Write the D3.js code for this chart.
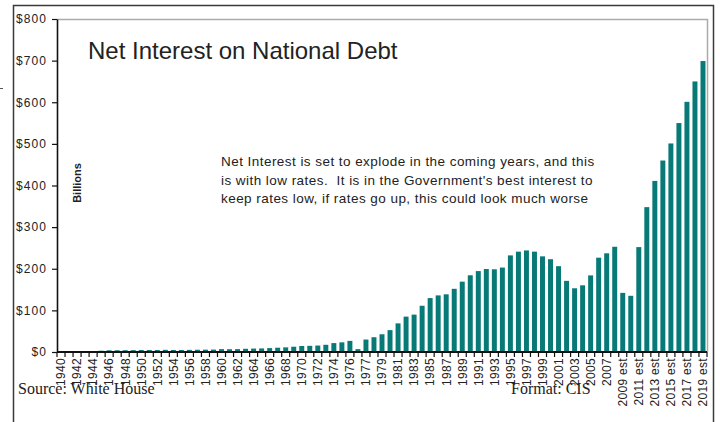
<!DOCTYPE html>
<html>
<head>
<meta charset="utf-8">
<script src="https://cdn.jsdelivr.net/npm/d3@7"></script>
<style>
  html, body { margin: 0; padding: 0; background: #fff; }
  svg { display: block; }
  .sans { font-family: "Liberation Sans", Arial, sans-serif; fill: #222; }
  .serif { font-family: "Liberation Serif", "Times New Roman", serif; fill: #222; }
</style>
</head>
<body>
<svg id="chart" width="720" height="422"></svg>
<script>
// Fiscal-year categories (TQ = 1976 transition quarter)
const categories = [
  "1940","1941","1942","1943","1944","1945","1946","1947","1948","1949",
  "1950","1951","1952","1953","1954","1955","1956","1957","1958","1959",
  "1960","1961","1962","1963","1964","1965","1966","1967","1968","1969",
  "1970","1971","1972","1973","1974","1975","1976","TQ",
  "1977","1978","1979","1980","1981","1982","1983","1984","1985","1986",
  "1987","1988","1989","1990","1991","1992","1993","1994","1995","1996",
  "1997","1998","1999","2000","2001","2002","2003","2004","2005","2006","2007","2008",
  "2009 est","2010 est","2011 est","2012 est","2013 est","2014 est",
  "2015 est","2016 est","2017 est","2018 est","2019 est"
];

// Net interest, billions of dollars
const netInterest = [
  0.9, 0.9, 1.1, 1.5, 2.2, 3.1, 4.1, 4.2, 4.3, 4.5,
  4.8, 4.7, 4.7, 5.2, 4.8, 4.9, 5.1, 5.4, 5.6, 5.8,
  6.9, 6.7, 6.9, 7.7, 8.2, 8.6, 9.4, 10.3, 11.1, 12.7,
  14.4, 14.8, 15.5, 17.3, 21.4, 23.2, 26.7, 6.9,
  29.9, 35.5, 42.6, 52.5, 68.8, 85.0, 89.8, 111.1, 129.5, 136.0,
  138.6, 151.8, 169.0, 184.3, 194.4, 199.3, 198.7, 202.9, 232.1, 241.1,
  244.0, 241.1, 229.8, 222.9, 206.2, 170.9, 153.1, 160.2, 184.0, 226.6, 237.1, 252.8,
  142, 135, 252, 348, 411, 460, 501, 550, 601, 650, 699
];

const yTicks = [0, 100, 200, 300, 400, 500, 600, 700, 800];

const titleText = "Net Interest on National Debt";
const noteLines = [
  "Net Interest is set to explode in the coming years, and this",
  "is with low rates.  It is in the Government's best interest to",
  "keep rates low, if rates go up, this could look much worse"
];
const yAxisTitle = "Billions";
const sourceText = "Source: White House";
const formatText = "Format: CIS";

const svg = d3.select("#chart");
const plot = { left: 57, right: 707, top: 19, bottom: 352 };
const barColor = "#077a77";

const data = categories.map((c, i) => ({ cat: c, value: netInterest[i], idx: i }));

const x = d3.scaleBand()
  .domain(categories)
  .range([plot.left, plot.right])
  .paddingInner(0.38)
  .paddingOuter(0.19);

const y = d3.scaleLinear()
  .domain([0, 800])
  .range([plot.bottom, plot.top]);

// outer frame
svg.append("path")
  .attr("d", `M13.5,422 V5.5 H713.5 V422`)
  .attr("fill", "none")
  .attr("stroke", "#3a3a3a")
  .attr("stroke-width", 1.5);

// small mark on the left edge
svg.append("line")
  .attr("x1", 0).attr("x2", 3).attr("y1", 88.5).attr("y2", 88.5)
  .attr("stroke", "#555").attr("stroke-width", 1);

// plot area border (top and right)
svg.append("path")
  .attr("d", `M${plot.left},${plot.top + 0.5} H${plot.right + 0.5} V${plot.bottom}`)
  .attr("fill", "none")
  .attr("stroke", "#aaaaaa")
  .attr("stroke-width", 1.5);

// bars
svg.append("g")
  .selectAll("rect")
  .data(data)
  .join("rect")
  .attr("x", d => x(d.cat))
  .attr("width", x.bandwidth())
  .attr("y", d => y(d.value))
  .attr("height", d => y(0) - y(d.value))
  .attr("fill", barColor);

// y axis
const yAxis = svg.append("g")
  .attr("transform", `translate(${plot.left},0)`)
  .call(d3.axisLeft(y).tickValues(yTicks).tickFormat(d => "$" + d).tickSize(5).tickPadding(5).tickSizeOuter(0));
yAxis.attr("font-family", null).attr("font-size", null);
yAxis.select(".domain").attr("stroke", "#111").attr("stroke-width", 1.6);
yAxis.selectAll(".tick line").attr("stroke", "#111").attr("stroke-width", 1.2);
yAxis.selectAll(".tick text")
  .attr("class", "sans")
  .style("font-size", "12px")
  .style("letter-spacing", "1.1px");

// x axis line and category boundary ticks
const gx = svg.append("g");
gx.append("line")
  .attr("x1", plot.left).attr("x2", plot.right)
  .attr("y1", y(0)).attr("y2", y(0))
  .attr("stroke", "#111").attr("stroke-width", 1.8);

const half = (x.step() - x.bandwidth()) / 2;
const boundaries = categories.map(c => x(c) - half).concat([x(categories[categories.length - 1]) + x.bandwidth() + half]);
gx.selectAll("line.tk")
  .data(boundaries)
  .join("line")
  .attr("class", "tk")
  .attr("x1", d => d).attr("x2", d => d)
  .attr("y1", y(0)).attr("y2", y(0) + 5)
  .attr("stroke", "#111").attr("stroke-width", 1.2);

// category labels, every other category
gx.selectAll("text")
  .data(data.filter(d => d.idx % 2 === 0))
  .join("text")
  .attr("class", "sans")
  .attr("transform", d => `translate(${x(d.cat) + x.bandwidth() / 2},${y(0) + 6}) rotate(-90)`)
  .attr("text-anchor", "end")
  .attr("dy", "0.36em")
  .style("font-size", "12px")
  .style("letter-spacing", "0.3px")
  .style("white-space", "pre")
  .text(d => d.cat);

// title
svg.append("text")
  .attr("class", "sans")
  .attr("x", 88).attr("y", 59)
  .style("font-size", "24px")
  .text(titleText);

// commentary
svg.append("g")
  .selectAll("text")
  .data(noteLines)
  .join("text")
  .attr("class", "sans")
  .attr("x", 221)
  .attr("y", (d, i) => 166 + i * 18.5)
  .style("font-size", "13.5px")
  .style("letter-spacing", "0.45px")
  .style("white-space", "pre")
  .text(d => d);

// y axis title
svg.append("text")
  .attr("class", "sans")
  .attr("transform", "translate(81,183) rotate(-90)")
  .attr("text-anchor", "middle")
  .style("font-size", "11px")
  .style("font-weight", "bold")
  .text(yAxisTitle);

// footnotes
svg.append("text")
  .attr("class", "serif")
  .attr("x", 18).attr("y", 394)
  .style("font-size", "16px")
  .text(sourceText);

svg.append("text")
  .attr("class", "serif")
  .attr("x", 511).attr("y", 394)
  .style("font-size", "16px")
  .text(formatText);
</script>
</body>
</html>
